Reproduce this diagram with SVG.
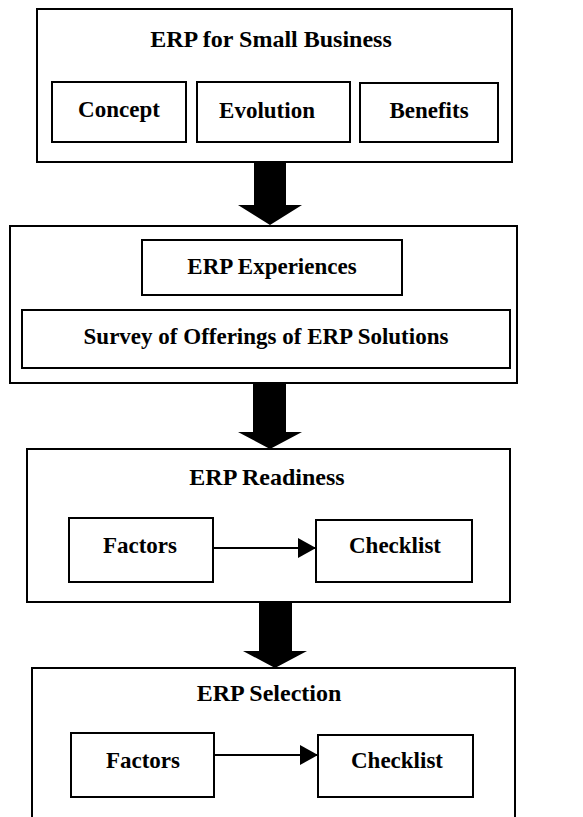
<svg xmlns="http://www.w3.org/2000/svg" width="583" height="817" viewBox="0 0 583 817">
<style>
rect{fill:#fff;stroke:#000;stroke-width:2}
text{font-family:"Liberation Serif","Times New Roman",serif;font-weight:bold;font-size:23px;fill:#000;text-anchor:middle}
.t{font-size:24px}
.big{fill:#000;stroke:none}
.ln{stroke:#000;stroke-width:2;fill:none}
</style>
<defs>
<marker id="ah" markerWidth="18" markerHeight="20" refX="18" refY="10" orient="auto" markerUnits="userSpaceOnUse">
<path d="M0,0 L18,10 L0,20 Z" fill="#000"/>
</marker>
</defs>
<rect width="583" height="817" style="fill:#fff;stroke:none"/>
<g id="erp-small-business">
<rect x="37" y="9" width="475" height="153"/>
<text class="t" x="271" y="47">ERP for Small Business</text>
<g id="concept"><rect x="52" y="82" width="134" height="60"/><text x="119" y="117">Concept</text></g>
<g id="evolution"><rect x="197" y="82" width="153" height="60"/><text x="267" y="118">Evolution</text></g>
<g id="benefits"><rect x="360" y="83" width="138" height="59"/><text x="429" y="118">Benefits</text></g>
</g>
<g id="erp-experiences-section">
<rect x="10" y="226" width="507" height="157"/>
<g id="erp-experiences"><rect x="142" y="240" width="260" height="55"/><text x="272" y="274">ERP Experiences</text></g>
<g id="survey"><rect x="22" y="310" width="488" height="58"/><text x="266" y="344">Survey of Offerings of ERP Solutions</text></g>
</g>
<g id="erp-readiness">
<rect x="27" y="449" width="483" height="153"/>
<text class="t" x="267" y="485">ERP Readiness</text>
<g id="readiness-factors"><rect x="69" y="518" width="144" height="64"/><text x="140" y="553">Factors</text></g>
<g id="readiness-checklist"><rect x="316" y="520" width="156" height="62"/><text x="395" y="553">Checklist</text></g>
</g>
<g id="erp-selection">
<rect x="32" y="668" width="483" height="170"/>
<text class="t" x="269" y="701">ERP Selection</text>
<g id="selection-factors"><rect x="71" y="733" width="143" height="64"/><text x="143" y="768">Factors</text></g>
<g id="selection-checklist"><rect x="318" y="735" width="155" height="62"/><text x="397" y="768">Checklist</text></g>
</g>
<g id="connectors">
<path class="big" d="M254,162 H286 V205 H302 L270,225 L238,205 H254 Z"/>
<path class="big" d="M253,383 H286 V432 H302 L270,449 L238,432 H253 Z"/>
<path class="big" d="M259,602 H292 V651 H307 L275,668 L243,651 H259 Z"/>
<line class="ln" x1="213" y1="548" x2="316" y2="548" marker-end="url(#ah)"/>
<line class="ln" x1="214" y1="755" x2="318" y2="755" marker-end="url(#ah)"/>
</g>
</svg>
